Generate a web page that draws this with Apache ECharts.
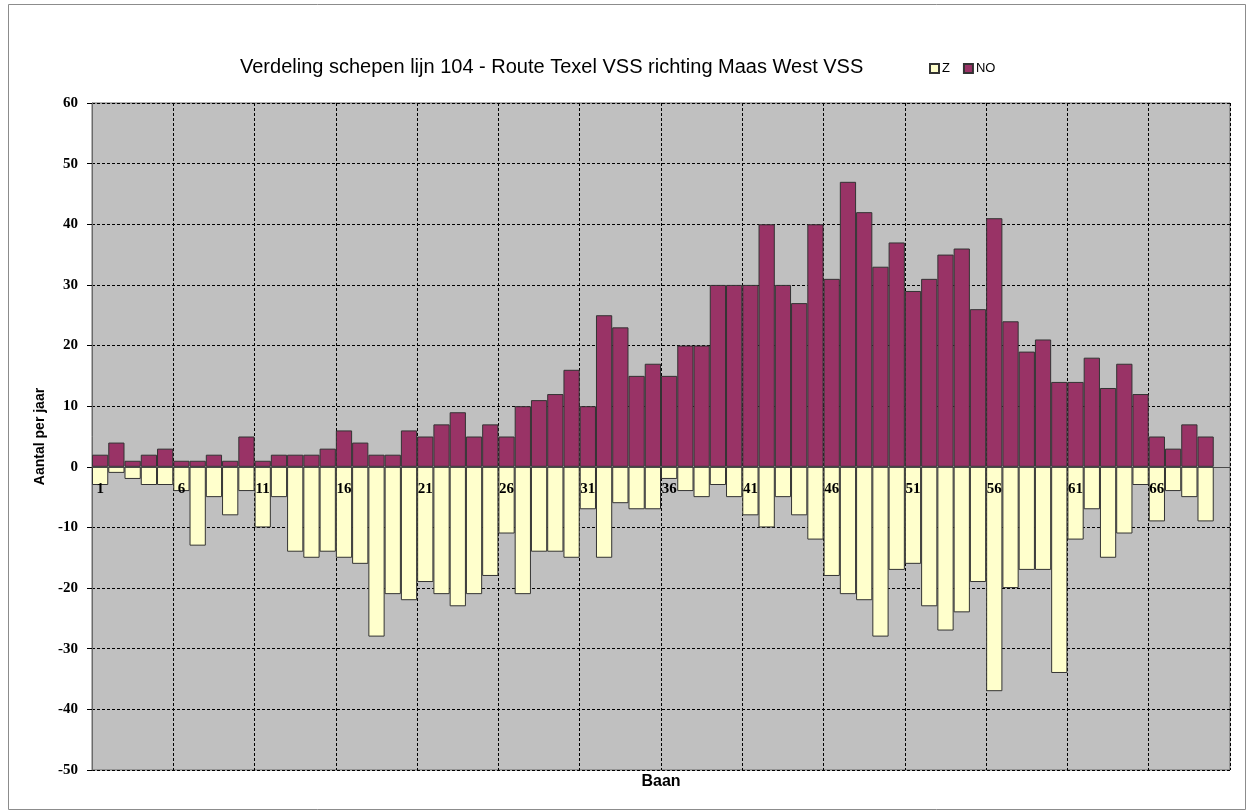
<!DOCTYPE html>
<html>
<head>
<meta charset="utf-8">
<script src="https://cdn.jsdelivr.net/npm/echarts@6/dist/echarts.min.js"></script>
<style>html,body{margin:0;padding:0;background:#fff;}#c{width:1249px;height:811px;}</style>
</head>
<body>
<div id="c"></div>
<script>
const categories = ['1','2','3','4','5','6','7','8','9','10','11','12','13','14','15','16','17','18','19','20',
  '21','22','23','24','25','26','27','28','29','30','31','32','33','34','35','36','37','38','39','40',
  '41','42','43','44','45','46','47','48','49','50','51','52','53','54','55','56','57','58','59','60',
  '61','62','63','64','65','66','67','68','69','70'];
const zValues = [-3,-1,-2,-3,-3,-4,-13,-5,-8,-4,-10,-5,-14,-15,-14,-15,-16,-28,-21,-22,
  -19,-21,-23,-21,-18,-11,-21,-14,-14,-15,-7,-15,-6,-7,-7,-2,-4,-5,-3,-5,
  -8,-10,-5,-8,-12,-18,-21,-22,-28,-17,-16,-23,-27,-24,-19,-37,-20,-17,-17,-34,
  -12,-7,-15,-11,-3,-9,-4,-5,-9];
const noValues = [2,4,1,2,3,1,1,2,1,5,1,2,2,2,3,6,4,2,2,6,
  5,7,9,5,7,5,10,11,12,16,10,25,23,15,17,15,20,20,30,30,
  30,40,30,27,40,31,47,42,33,37,29,31,35,36,26,41,24,19,21,14,
  14,18,13,17,12,5,3,7,5];
const seriesNames = ['Z','NO'];
const titleText = 'Verdeling schepen lijn 104 - Route Texel VSS richting Maas West VSS';
const xAxisName = 'Baan';
const yAxisName = 'Aantal per jaar';
const yMin = -50, yMax = 60;

const chart = echarts.init(document.getElementById('c'), null, {renderer:'canvas'});
const labelFont = 'Liberation Serif';
const gridTop = 103, gridBottom = 41, chartH = 811;
const gridH = chartH - gridTop - gridBottom;
// distance from bottom edge of plot up to the value-0 line
const zeroOffset = -gridH * (0 - yMin) / (yMax - yMin);
chart.setOption({
  animation: false,
  backgroundColor: '#ffffff',
  graphic: [{
    type: 'rect', silent: true, z: -1,
    shape: {x: 8.5, y: 4.5, width: 1237, height: 805},
    style: {fill: 'none', stroke: '#8c8c8c', lineWidth: 1}
  }],
  title: [{
    text: titleText, left: 240, top: 57, padding: 0,
    textStyle: {fontFamily: 'Liberation Sans', fontSize: 20, fontWeight: 'normal', color: '#000'}
  }, {
    text: xAxisName, left: 661, top: 774, padding: 0, textAlign: 'center',
    textStyle: {fontFamily: 'Liberation Sans', fontSize: 16, fontWeight: 'bold', color: '#000'}
  }],
  legend: {
    data: seriesNames, left: 929, top: 62, padding: 0,
    itemWidth: 9, itemHeight: 9, itemGap: 13, icon: 'rect',
    textStyle: {fontFamily: 'Liberation Sans', fontSize: 13, color: '#000', padding: [0,0,0,-2]}
  },
  grid: {
    left: 92, right: 19, top: gridTop, bottom: gridBottom, containLabel: false,
    show: true, backgroundColor: '#c0c0c0', borderColor: '#6a6a6a', borderWidth: 1
  },
  xAxis: [{
    type: 'category', data: categories, boundaryGap: true, position: 'bottom', z: 10,
    offset: zeroOffset,
    axisLine: {show: true, onZero: false, lineStyle: {color: '#4a4a4a', width: 1}},
    axisTick: {show: false},
    axisLabel: {show: true, interval: 4, margin: 15, color: '#000', fontFamily: labelFont, fontWeight: 'bold', fontSize: 15},
    splitLine: {show: false}
  }, {
    type: 'category', data: categories, boundaryGap: true, position: 'top',
    axisLine: {show: false, onZero: false}, axisTick: {show: false}, axisLabel: {show: false},
    splitLine: {show: true, interval: 4, lineStyle: {color: '#000', type: [3,2], width: 1}}
  }],
  yAxis: {
    type: 'value', min: yMin, max: yMax, interval: 10,
    name: yAxisName, nameLocation: 'middle', nameGap: 45,
    nameTextStyle: {fontFamily: 'Liberation Sans', fontSize: 14, fontWeight: 'bold', color: '#000'},
    axisLine: {show: true, onZero: false, lineStyle: {color: '#6a6a6a', width: 1}},
    axisTick: {show: true, length: 5, lineStyle: {color: '#000'}},
    axisLabel: {margin: 14, color: '#000', fontFamily: labelFont, fontWeight: 'bold', fontSize: 15},
    splitLine: {show: true, lineStyle: {color: '#000', type: [3,2], width: 1}}
  },
  series: [{
    name: seriesNames[0], type: 'bar', data: zValues, xAxisIndex: 0,
    barGap: '-100%', barCategoryGap: 0,
    itemStyle: {color: '#ffffcc', borderColor: '#333333', borderWidth: 1}
  }, {
    name: seriesNames[1], type: 'bar', data: noValues, xAxisIndex: 0,
    barGap: '-100%', barCategoryGap: 0,
    itemStyle: {color: '#993366', borderColor: '#333333', borderWidth: 1}
  }]
});
</script>
</body>
</html>
